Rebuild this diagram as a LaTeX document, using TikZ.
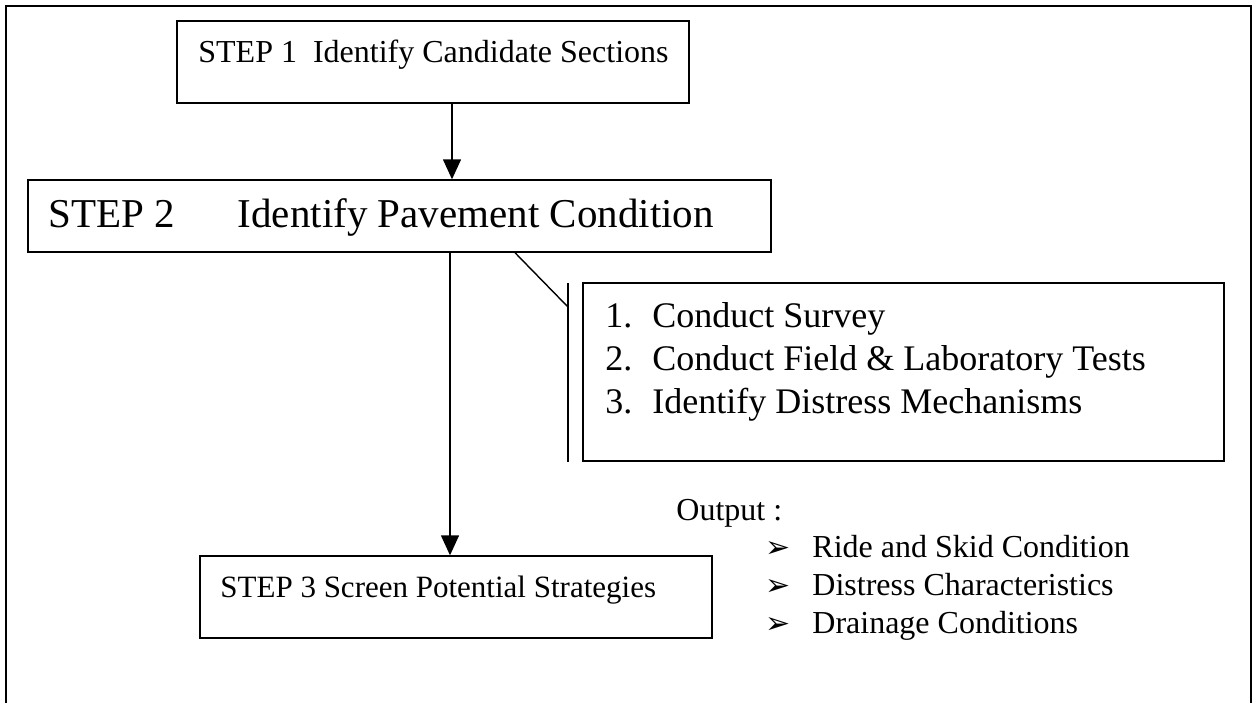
\documentclass[tikz,border=0pt]{standalone}
\usepackage{fontspec}
\setmainfont{Liberation Serif}
\newfontfamily\dingfont{DejaVu Sans}
\usetikzlibrary{positioning, arrows.meta}

\begin{document}
\begin{tikzpicture}[
    x=0.5pt, y=-0.5pt,
    stepbox/.style={rectangle, draw, line width=0.7pt, inner sep=0pt},
    steptext/.style={anchor=base west, inner sep=0pt, font=\fontsize{16}{19}\selectfont},
    bigtext/.style={anchor=base west, inner sep=0pt, font=\fontsize{20.5}{24}\selectfont},
    listtext/.style={anchor=base west, inner sep=0pt, align=left, font=\fontsize{18}{21.5}\selectfont},
    outtext/.style={anchor=base west, inner sep=0pt, align=left, font=\fontsize{16}{19}\selectfont},
    flow/.style={-{Triangle[length=10pt, width=9pt]}, line width=0.7pt}
]
\useasboundingbox (0,0) rectangle (1253,702);

% Outer frame (open at the bottom)
\draw[line width=1.1pt] (6,720) -- (6,6) -- (1251,6) -- (1251,720);

% Step boxes
\node[stepbox, minimum width=256pt, minimum height=41pt] (step1) at (433,62) {};
\node[stepbox, minimum width=371.5pt, minimum height=36pt] (step2) at (399.5,216) {};
\node[stepbox, minimum width=256pt, minimum height=41pt] (step3) at (456,597) {};
\node[stepbox, minimum width=320.5pt, minimum height=89pt] (tasks) at (903.5,372) {};

% Texts
\node[steptext] (step1txt) at (198,62) {STEP 1\ \ Identify Candidate Sections};
\node[bigtext] (step2txt) at (48,227) {STEP 2\hspace{31.5pt}Identify Pavement Condition};
\node[steptext, font=\fontsize{15.5}{18}\selectfont] (step3txt) at (220,597) {STEP 3 Screen Potential Strategies};
% multi-line nodes: base is the last line
\node[listtext] (tasktxt) at (605,413) {%
    \makebox[23.5pt][l]{1.}Conduct Survey\\
    \makebox[23.5pt][l]{2.}Conduct Field \& Laboratory Tests\\
    \makebox[23.5pt][l]{3.}Identify Distress Mechanisms};
\node[outtext] (outlbl) at (676,520) {Output :};
\node[outtext] (outlist) at (765,633) {%
    \makebox[23.5pt][l]{\dingfont\fontsize{15}{15}\selectfont ➢}Ride and Skid Condition\\
    \makebox[23.5pt][l]{\dingfont\fontsize{15}{15}\selectfont ➢}Distress Characteristics\\
    \makebox[23.5pt][l]{\dingfont\fontsize{15}{15}\selectfont ➢}Drainage Conditions};

% Connectors
\coordinate (down1) at (452,0);
\coordinate (down2) at (450,0);
\draw[flow] (step1.south -| down1) -- (step2.north -| down1);
\draw[flow] (step2.south -| down2) -- (step3.north -| down2);

% Callout from step 2 to the task list
\coordinate (tail) at (515,0);
\coordinate (bartop) at (568,283);
\coordinate (barbot) at (568,462);
\coordinate (barjoin) at (568,307);
\draw[line width=0.7pt] (bartop) -- (barbot);
\draw[line width=0.7pt] (step2.south -| tail) -- (barjoin);

\end{tikzpicture}
\end{document}
